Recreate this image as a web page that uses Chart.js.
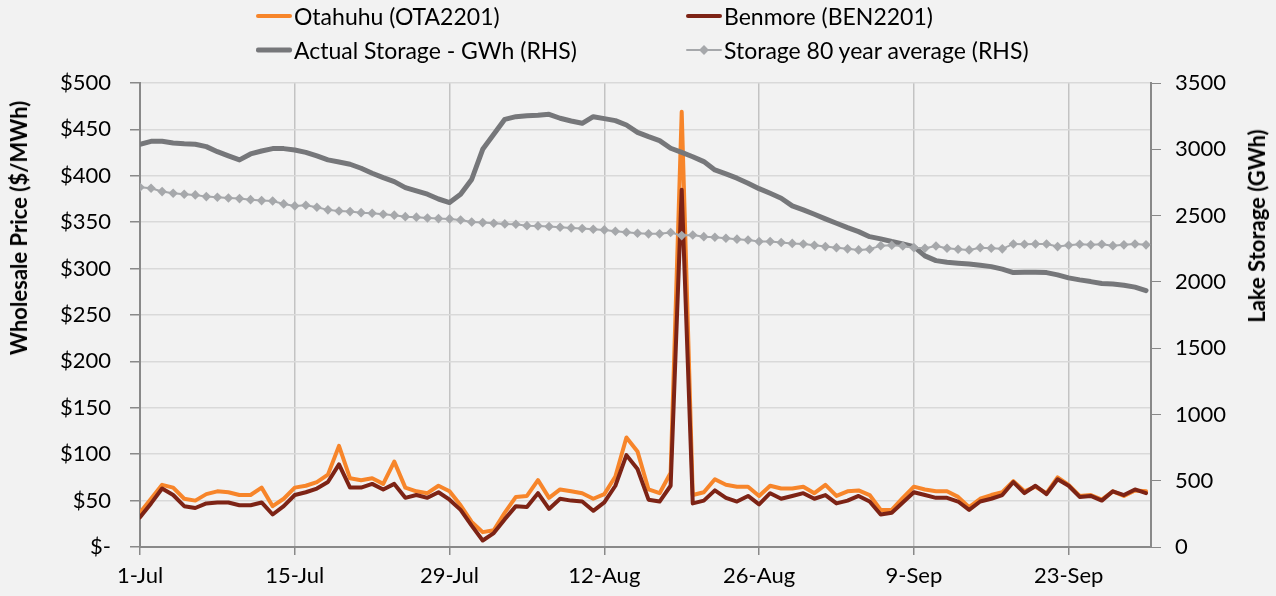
<!DOCTYPE html>
<html><head><meta charset="utf-8">
<script src="https://cdn.jsdelivr.net/npm/chart.js@4.4.1/dist/chart.umd.min.js"></script>
<style>
html,body{margin:0;padding:0;background:#f2f2f2;}
#wrap{position:relative;width:1276px;height:596px;overflow:hidden;background:#f2f2f2;font-family:Lato,"Open Sans",sans-serif;}
canvas{position:absolute;left:0;top:0;}
.leg{position:absolute;display:flex;align-items:center;height:26px;font-size:23px;color:#000;white-space:nowrap;line-height:26px;}
.sw{position:relative;width:36px;height:26px;margin-right:2px;flex:none;}
.sw .ln{position:absolute;left:0;right:0;top:50%;transform:translateY(-50%);border-radius:2px;}
.sw .dm{position:absolute;left:50%;top:50%;width:7px;height:7px;transform:translate(-50%,-50%) rotate(45deg);}
.atitle{position:absolute;font-weight:700;font-size:22px;white-space:nowrap;color:#000;line-height:26px;transform-origin:center center;}
</style></head>
<body>
<div id="wrap">
<canvas id="c" width="1276" height="596"></canvas>
<div id="legend"></div>
<div id="tl" class="atitle">Wholesale Price ($/MWh)</div>
<div id="tr" class="atitle">Lake Storage (GWh)</div>
</div>
<script>
// ---- data ----
const days = ['1-Jul','2-Jul','3-Jul','4-Jul','5-Jul','6-Jul','7-Jul','8-Jul','9-Jul','10-Jul','11-Jul','12-Jul','13-Jul','14-Jul','15-Jul','16-Jul','17-Jul','18-Jul','19-Jul','20-Jul','21-Jul','22-Jul','23-Jul','24-Jul','25-Jul','26-Jul','27-Jul','28-Jul','29-Jul','30-Jul','31-Jul',
'1-Aug','2-Aug','3-Aug','4-Aug','5-Aug','6-Aug','7-Aug','8-Aug','9-Aug','10-Aug','11-Aug','12-Aug','13-Aug','14-Aug','15-Aug','16-Aug','17-Aug','18-Aug','19-Aug','20-Aug','21-Aug','22-Aug','23-Aug','24-Aug','25-Aug','26-Aug','27-Aug','28-Aug','29-Aug','30-Aug','31-Aug',
'1-Sep','2-Sep','3-Sep','4-Sep','5-Sep','6-Sep','7-Sep','8-Sep','9-Sep','10-Sep','11-Sep','12-Sep','13-Sep','14-Sep','15-Sep','16-Sep','17-Sep','18-Sep','19-Sep','20-Sep','21-Sep','22-Sep','23-Sep','24-Sep','25-Sep','26-Sep','27-Sep','28-Sep','29-Sep','30-Sep'];

const otahuhu = [37,52,67,64,52,50,57,60,59,56,56,64,44,52,64,66,70,78,109,74,72,74,68,92,64,60,58,66,60,45,27,
16,18,37,54,55,72,53,62,60,58,52,57,76,118,103,62,58,80,469,56,59,73,67,65,65,55,66,63,63,65,58,
67,55,60,61,56,40,40,53,65,62,60,60,54,43,52,56,59,71,60,65,58,75,67,55,56,51,60,55,61,60];

const benmore = [32,47,63,56,44,42,47,48,48,45,45,48,35,44,56,59,63,70,89,64,64,68,62,68,53,56,53,59,51,40,23,
7,15,30,44,43,58,41,52,50,49,39,48,66,99,84,51,49,66,385,47,50,61,53,49,55,46,58,52,55,58,52,
56,47,50,55,49,35,37,48,59,56,53,53,49,40,49,52,56,70,58,66,57,73,66,54,55,50,60,56,62,58];

const storage = [3038,3060,3060,3048,3042,3038,3020,2982,2950,2920,2965,2987,3005,3005,2995,2977,2950,2920,2904,2887,2857,2819,2786,2756,2711,2686,2661,2625,2598,2660,2772,
3000,3113,3226,3246,3253,3256,3264,3234,3213,3196,3246,3231,3216,3183,3128,3095,3065,3008,2977,2944,2907,2844,2814,2782,2744,2703,2668,2631,2573,2543,2510,
2475,2442,2409,2379,2341,2324,2304,2286,2266,2196,2160,2148,2141,2135,2126,2115,2096,2070,2073,2073,2070,2053,2030,2015,2002,1987,1983,1975,1960,1934];

const storageAvg = [2714,2706,2681,2668,2661,2656,2643,2638,2633,2628,2620,2613,2610,2588,2573,2578,2563,2543,2535,2530,2522,2518,2510,2503,2492,2488,2482,2477,2475,2467,2452,
2447,2442,2437,2435,2424,2422,2417,2412,2407,2402,2397,2392,2382,2374,2367,2362,2362,2372,2349,2354,2341,2337,2329,2322,2316,2304,2304,2297,2290,2286,2276,
2266,2258,2249,2241,2246,2273,2276,2271,2258,2253,2271,2253,2246,2241,2258,2253,2249,2286,2284,2286,2286,2266,2276,2284,2279,2284,2273,2279,2286,2279];

const xTickLabels = ['1-Jul','15-Jul','29-Jul','12-Aug','26-Aug','9-Sep','23-Sep'];
const priceTickLabels = ['$-','$50','$100','$150','$200','$250','$300','$350','$400','$450','$500'];
const storageTickLabels = ['0','500','1000','1500','2000','2500','3000','3500'];

const seriesNames = ['Otahuhu (OTA2201)','Benmore (BEN2201)','Actual Storage - GWh (RHS)','Storage 80 year average (RHS)'];

// ---- styling ----
const C_OR = '#F7852A', C_RD = '#7D2315', C_GR = '#76777A', C_LG = '#A6A8AB';
const AXIS = '#898989';
const FONT = {family:'Lato, "Open Sans", sans-serif', size:22};

const xIdx = xTickLabels.map(l => days.indexOf(l));
const pts = arr => arr.map((v,i)=>({x:i, y:v}));

const chart = new Chart(document.getElementById('c'), {
  type:'line',
  data:{datasets:[
    {label:seriesNames[0], data:pts(otahuhu), yAxisID:'y', borderColor:C_OR, backgroundColor:C_OR, borderWidth:4, pointRadius:0, borderJoinStyle:'round', borderCapStyle:'round', order:4, sw:4},
    {label:seriesNames[1], data:pts(benmore), yAxisID:'y', borderColor:C_RD, backgroundColor:C_RD, borderWidth:4, pointRadius:0, borderJoinStyle:'round', borderCapStyle:'round', order:3, sw:4},
    {label:seriesNames[2], data:pts(storage), yAxisID:'y1', borderColor:C_GR, backgroundColor:C_GR, borderWidth:5, pointRadius:0, borderJoinStyle:'round', borderCapStyle:'round', order:2, sw:5},
    {label:seriesNames[3], data:pts(storageAvg), yAxisID:'y1', borderColor:C_LG, backgroundColor:C_LG, borderWidth:2, pointStyle:'rectRot', pointRadius:4.8, pointBorderWidth:0, pointBackgroundColor:C_LG, order:1, sw:2, diamond:true}
  ]},
  options:{
    responsive:false, animation:false, devicePixelRatio:1,
    layout:{padding:{top:83,left:0,right:0,bottom:0}},
    plugins:{legend:{display:false}, tooltip:{enabled:false}},
    scales:{
      x:{type:'linear', min:0, max:91.45,
        afterBuildTicks:s=>{ s.ticks = xIdx.map(v=>({value:v})); },
        afterFit:s=>{ s.height = 49; },
        ticks:{font:FONT, color:'#000', padding:8, maxRotation:0, autoSkip:false,
          callback:(v,i)=>xTickLabels[i]},
        grid:{color:'#C3C3C3', lineWidth:1.5, tickColor:AXIS, tickLength:8},
        border:{color:AXIS, width:2}},
      y:{position:'left', min:0, max:500,
        afterBuildTicks:s=>{ s.ticks = priceTickLabels.map((l,i)=>({value:i*50})); },
        afterFit:s=>{ s.width = 140; },
        ticks:{font:FONT, color:'#000', padding:19, callback:(v,i)=>priceTickLabels[i]},
        grid:{color:'#D9D9D9', lineWidth:1.5, tickColor:AXIS, tickLength:10},
        border:{color:AXIS, width:2}},
      y1:{position:'right', min:0, max:3500,
        afterBuildTicks:s=>{ s.ticks = storageTickLabels.map(l=>({value:+l})); },
        afterFit:s=>{ s.width = 125; },
        ticks:{font:FONT, color:'#000', padding:14, callback:(v,i)=>storageTickLabels[i]},
        grid:{drawOnChartArea:false, tickColor:AXIS, tickLength:10},
        border:{color:AXIS, width:2}}
    }
  }
});

// ---- HTML legend (2 x 2) built from the chart's datasets ----
const legPos = [[256,3],[686,3],[256,37],[686,37]];
const legEl = document.getElementById('legend');
chart.data.datasets.forEach((ds,i)=>{
  const d = document.createElement('div');
  d.className = 'leg';
  d.style.left = legPos[i][0]+'px'; d.style.top = legPos[i][1]+'px';
  const sw = document.createElement('span'); sw.className='sw';
  const ln = document.createElement('span'); ln.className='ln';
  ln.style.height = ds.sw+'px'; ln.style.background = ds.borderColor;
  sw.appendChild(ln);
  if (ds.diamond){ const dm=document.createElement('span'); dm.className='dm'; dm.style.background=ds.borderColor; sw.appendChild(dm); }
  d.appendChild(sw);
  const t = document.createElement('span'); t.textContent = ds.label; d.appendChild(t);
  legEl.appendChild(d);
});

// ---- axis titles ----
function placeTitle(id, cx, cy, deg){
  const el = document.getElementById(id);
  el.style.left = cx+'px'; el.style.top = cy+'px';
  el.style.transform = 'translate(-50%,-50%) rotate('+deg+'deg)';
}
placeTitle('tl', 19, 228, -90);
placeTitle('tr', 1257, 226, -90);
</script>
</body></html>
